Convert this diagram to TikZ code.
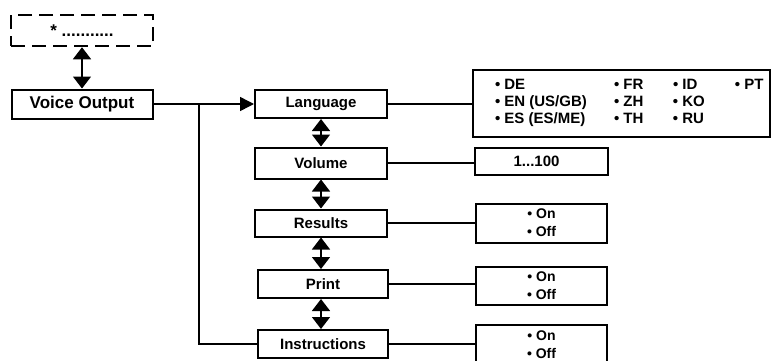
\documentclass[tikz,border=0pt]{standalone}
\usepackage{fontspec}
\setmainfont{Liberation Sans}
\usetikzlibrary{arrows.meta}
\begin{document}
\begin{tikzpicture}[x=1pt,y=1pt,
  menubox/.style={draw, line width=2pt, minimum width=132pt, minimum height=28pt,
    inner sep=0pt, font=\fontsize{15}{18}\selectfont\bfseries},
  valbox/.style={draw, line width=2pt, minimum width=131pt, inner sep=0pt,
    align=center, font=\fontsize{14}{18}\selectfont\bfseries},
  link/.style={line width=1.5pt},
  dbl/.style={line width=1.5pt,
    {Triangle[length=12pt,width=18pt]}-{Triangle[length=12pt,width=18pt]}}
]
\useasboundingbox (0,0) rectangle (773,360);
% left part
\node[menubox, line width=2.5pt, dash pattern=on 14pt off 7pt, minimum width=142pt, minimum height=31pt,
  font=\fontsize{17}{18}\selectfont\bfseries] (star) at (82,329.5) {*\ ...........};
\node[menubox, minimum width=141pt, minimum height=29pt,
  font=\fontsize{17}{18}\selectfont\bfseries] (voice) at (82,256) {Voice Output};
\draw[dbl] (star) -- (voice);
% menu entries
\node[menubox] (lang) at (321,256) {Language};
\node[menubox, minimum height=31pt] (vol) at (321,197) {Volume};
\node[menubox, minimum height=27pt] (results) at (321,137) {Results};
\node[menubox, minimum width=130pt] (print) at (323,76) {Print};
\node[menubox, minimum width=130pt] (instr) at (323,16) {Instructions};
\draw[link, -{Triangle[length=14pt,width=14pt]}] (voice) -- (lang);
\coordinate (split) at (199,256);
\draw[link] (split) |- (instr.west);
\draw[dbl] (lang) -- (vol);
\draw[dbl] (vol) -- (results);
\draw[dbl] (results.south) -- (print.north -| results.south);
\draw[dbl] (print.south -| results.south) -- (instr.north -| results.south);
% values
\node[valbox, minimum width=297pt, minimum height=67pt, font=\fontsize{15}{17}\selectfont\bfseries] (langlist) at (621.5,256.5)
  {\begin{tabular}{@{\hspace{21pt}}p{119pt}@{}p{59pt}@{}p{62pt}@{}p{34pt}@{}}
   \textbullet\ DE & \textbullet\ FR & \textbullet\ ID & \textbullet\ PT\\
   \textbullet\ EN (US/GB) & \textbullet\ ZH & \textbullet\ KO & \\
   \textbullet\ ES (ES/ME) & \textbullet\ TH & \textbullet\ RU & \\
   \end{tabular}};
\node[valbox, minimum width=133pt, minimum height=27pt, font=\fontsize{15}{18}\selectfont\bfseries] (volval) at (541.5,198.5) {1...100\hspace{10pt}};
\node[valbox, minimum height=39pt] (resval) at (541.5,137) {\textbullet\ On\\\textbullet\ Off};
\node[valbox, minimum height=38pt] (printval) at (541.5,74) {\textbullet\ On\\\textbullet\ Off};
\node[valbox, minimum height=39pt] (instrval) at (541.5,15.5) {\textbullet\ On\\\textbullet\ Off};
\draw[link] (lang) -- (lang -| langlist.west);
\draw[link] (vol) -- (vol -| volval.west);
\draw[link] (results) -- (results -| resval.west);
\draw[link] (print) -- (print -| printval.west);
\draw[link] (instr) -- (instr -| instrval.west);
\end{tikzpicture}
\end{document}
